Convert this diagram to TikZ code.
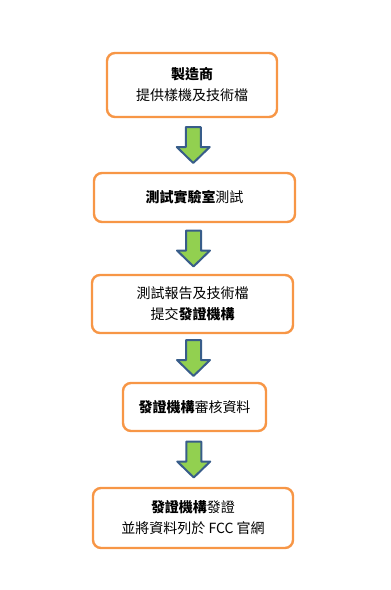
\documentclass[tikz,border=0pt]{standalone}
\usepackage{fontspec}
\setmainfont{Noto Sans CJK TC}
\usetikzlibrary{positioning,calc}
\definecolor{steporange}{HTML}{F79646}
\definecolor{arrowgreen}{HTML}{92D050}
\definecolor{arrowblue}{HTML}{385D8A}
\tikzset{
  stagebox/.style={draw=steporange,line width=2.4pt,rounded corners=8pt,fill=white,align=center,inner sep=4pt,font=\fontsize{14}{21}\selectfont},
  downarrow/.style={draw=arrowblue,fill=arrowgreen,line width=2pt,line join=round}
}
% block arrow halfway between two boxes
\newcommand{\blockarrow}[2]{%
  \coordinate (#1-#2) at ($(#1.south)!0.5!(#2.north)$);
  \draw[downarrow] ($(#1-#2)+(-7.5,-18)$) -- ($(#1-#2)+(7.5,-18)$) -- ($(#1-#2)+(7.5,2)$)
    -- ($(#1-#2)+(16.5,2)$) -- ($(#1-#2)+(0,18)$) -- ($(#1-#2)+(-16.5,2)$) -- ($(#1-#2)+(-7.5,2)$) -- cycle;}

\begin{document}
\begin{tikzpicture}[x=1pt,y=-1pt]
  \useasboundingbox (0,0) rectangle (391,590);
  \node[stagebox,minimum width=170pt,minimum height=64pt] (maker) at (192,85) {\textbf{製造商}\\提供樣機及技術檔};
  \node[stagebox,minimum width=201pt,minimum height=49pt] (lab) at (194.5,197.5) {\textbf{測試實驗室}測試};
  \node[stagebox,minimum width=201pt,minimum height=58pt] (report) at (192.5,304) {測試報告及技術檔\\提交\textbf{發證機構}};
  \node[stagebox,minimum width=143pt,minimum height=48pt] (review) at (194.5,407) {\textbf{發證機構}審核資料};
  \node[stagebox,minimum width=200pt,minimum height=60pt] (grant) at (193,518) {\textbf{發證機構}發證\\並將資料列於 FCC 官網};
  \blockarrow{maker}{lab}
  \blockarrow{lab}{report}
  \blockarrow{report}{review}
  \blockarrow{review}{grant}
\end{tikzpicture}
\end{document}
